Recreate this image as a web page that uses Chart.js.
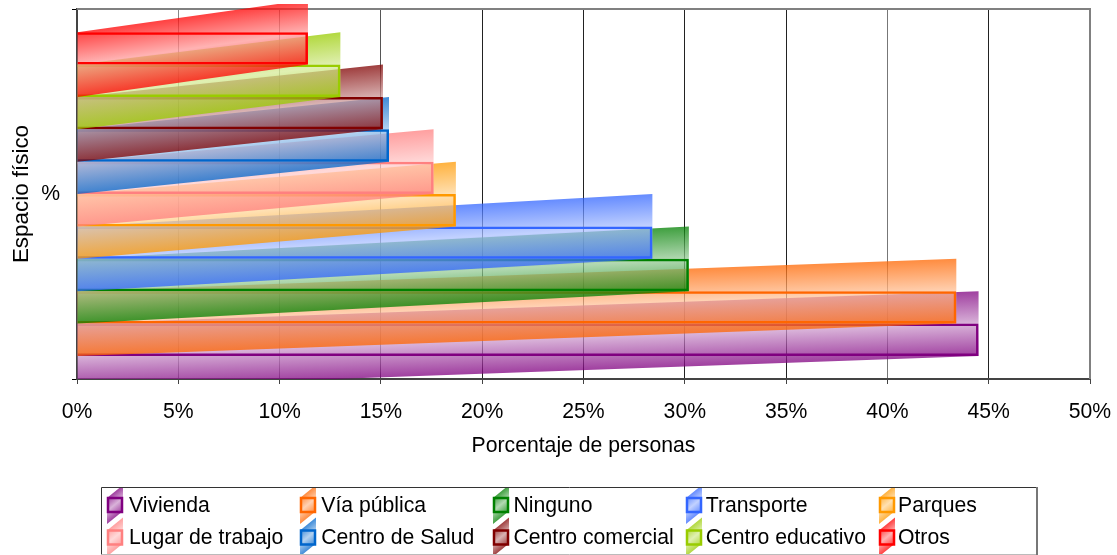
<!DOCTYPE html>
<html><head><meta charset="utf-8">
<style>html,body{margin:0;padding:0;background:#fff}canvas{display:block}</style>
<script src="https://cdn.jsdelivr.net/npm/chart.js@4"></script></head>
<body><div style="width:1117px;height:555px"><canvas id="c" width="1117" height="555"></canvas></div>
<script>
const categories = ['%'];
const seriesNames = ['Vivienda','Vía pública','Ninguno','Transporte','Parques','Lugar de trabajo','Centro de Salud','Centro comercial','Centro educativo','Otros'];
const seriesValues = [44.5,43.4,30.2,28.4,18.7,17.6,15.4,15.1,13.0,11.4];
const seriesColors = [[128,0,128],[255,102,0],[0,128,0],[51,102,255],[255,153,0],[255,128,128],[0,102,204],[128,0,0],[153,204,0],[255,0,0]];
const xTicks = [0,5,10,15,20,25,30,35,40,45,50];
const gridColors = ['#555','#888','#888','#555','#222','#222','#222','#222','#777','#222','#222'];
const FONT = 'Arial, "Liberation Sans", sans-serif';
const FS = 21.2;

function ribbonGradient(ctx,x0,x1,yTop,h,c){
  const w=Math.max(x1-x0,1), th=Math.atan2(h,w), d=2*h*Math.cos(th);
  const g=ctx.createLinearGradient(x0,yTop,x0+d*Math.sin(th),yTop+d*Math.cos(th));
  const t=v=>Math.round(v+(255-v)*0.6);
  const dark=`rgba(${c[0]},${c[1]},${c[2]},0.75)`, pale=`rgba(${t(c[0])},${t(c[1])},${t(c[2])},0.75)`;
  g.addColorStop(0,dark);g.addColorStop(0.5,pale);g.addColorStop(1,dark);
  return g;
}
function ribbon(ctx,x0,x1,yTop,h,c){
  ctx.fillStyle=ribbonGradient(ctx,x0,x1,yTop,h,c);
  ctx.beginPath();
  ctx.moveTo(x0,yTop);ctx.lineTo(x1,yTop-h);ctx.lineTo(x1,yTop+h);ctx.lineTo(x0,yTop+2*h);
  ctx.closePath();ctx.fill();
}
const ribbons={id:'ribbons',
  beforeDatasetsDraw(chart){
    const {ctx,chartArea:a}=chart;
    ctx.save();ctx.strokeStyle='#808080';ctx.lineWidth=2;
    ctx.beginPath();ctx.moveTo(a.left,a.top);ctx.lineTo(a.right,a.top);ctx.lineTo(a.right,a.bottom);ctx.stroke();
    ctx.restore();
  },
  beforeDatasetDraw(chart,args){
    const {ctx,chartArea:a}=chart;
    const i=args.index, el=args.meta.data[0];
    const h=el.height, yTop=el.y-h/2;
    ctx.save();
    ctx.beginPath();ctx.rect(0,4,chart.width,a.bottom-4);ctx.clip();
    ribbon(ctx,el.base,el.x,yTop,h,seriesColors[i]);
    ctx.restore();
  },
  afterDraw(chart){
    const ctx=chart.ctx;
    const L=101,T=487,R=1065,B=554;
    const R2=1037;
    ctx.save();
    ctx.lineWidth=1;
    ctx.strokeStyle='#333';
    ctx.beginPath();ctx.moveTo(R2+.5,T+.5);ctx.lineTo(L+.5,T+.5);ctx.lineTo(L+.5,B+.5);ctx.stroke();
    ctx.strokeStyle='#bbb';
    ctx.beginPath();ctx.moveTo(L+.5,B+.5);ctx.lineTo(R2+.5,B+.5);ctx.stroke();
    ctx.strokeStyle='#777';ctx.lineWidth=2;
    ctx.beginPath();ctx.moveTo(R2,T);ctx.lineTo(R2,B+1);ctx.stroke();
    ctx.font=FS+'px '+FONT;ctx.textBaseline='middle';ctx.textAlign='left';
    seriesNames.forEach((n,i)=>{
      const col=i%5,row=Math.floor(i/5);
      const x=108+col*193,y=498+row*32.5,s=14;
      const c=seriesColors[i];
      ctx.save();
      ctx.beginPath();ctx.rect(x-1,T+1,s+2,B-T-1);ctx.clip();
      ribbon(ctx,x-1,x+s+1,y,13,c);
      ctx.restore();
      ctx.strokeStyle=`rgb(${c[0]},${c[1]},${c[2]})`;ctx.lineWidth=2.5;
      ctx.strokeRect(x,y,s,s);
      ctx.fillStyle='#000';
      ctx.fillText(n,129+col*192.25,y+8);
    });
    ctx.restore();
  }
};
new Chart(document.getElementById('c'),{
  type:'bar',
  data:{labels:categories,datasets:seriesNames.map((n,i)=>({
    label:n,data:[seriesValues[i]],order:seriesNames.length-i,
    backgroundColor:'rgba(0,0,0,0)',borderColor:`rgb(${seriesColors[i].join(',')})`,borderWidth:2.5,
    barPercentage:1,categoryPercentage:0.875,clip:false
  }))},
  plugins:[ribbons],
  options:{
    indexAxis:'y',responsive:false,animation:false,
    layout:{padding:{left:0,right:27,top:9,bottom:0}},
    plugins:{legend:{display:false},tooltip:{enabled:false}},
    font:{family:FONT},
    scales:{
      x:{min:0,max:50,afterBuildTicks(s){s.ticks=xTicks.map(v=>({value:v}));},
        afterFit(s){s.height=176;s.paddingRight=0;s.paddingLeft=0;},
        grid:{color:c=>gridColors[c.index]||'#222',tickLength:5,tickColor:'#444',lineWidth:1},
        border:{color:'#444',width:2},
        ticks:{color:'#000',font:{size:FS,family:FONT},padding:15,maxRotation:0,autoSkip:false,callback:v=>v+'%'},
        title:{display:true,text:'Porcentaje de personas',color:'#000',font:{size:FS,family:FONT},padding:{top:0,bottom:96}}},
      y:{reverse:true,afterFit(s){s.width=77;s.paddingTop=0;s.paddingBottom=0;},
        grid:{display:true,drawOnChartArea:false,tickLength:5,tickColor:'#000'},
        border:{color:'#444',width:2},
        ticks:{color:'#000',font:{size:FS,family:FONT},padding:12},
        title:{display:true,text:'Espacio físico',color:'#000',font:{size:22.4,family:FONT},padding:{top:8,bottom:0}}}
    }
  }
});
</script></body></html>
